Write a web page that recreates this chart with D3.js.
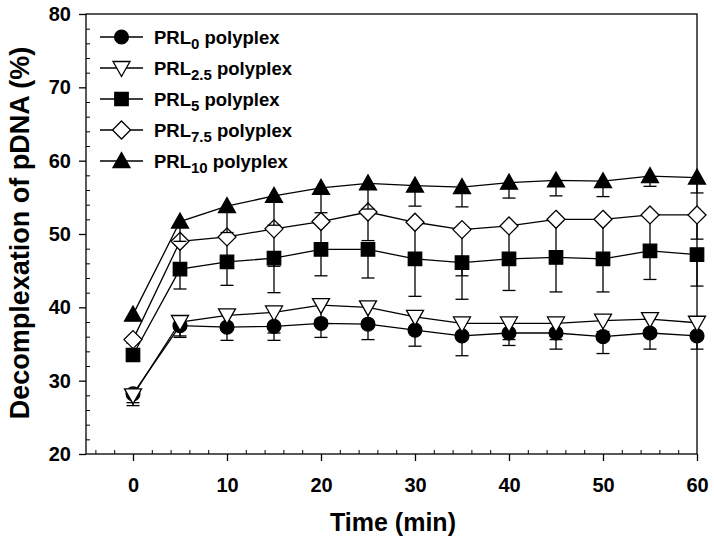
<!DOCTYPE html>
<html>
<head>
<meta charset="utf-8">
<script src="https://cdn.jsdelivr.net/npm/d3@7"></script>
<style>
  html, body { margin: 0; padding: 0; background: #fff; }
  svg { display: block; }
  text { font-family: "Liberation Sans", Arial, sans-serif; font-weight: bold; fill: #000; }
</style>
</head>
<body>
<svg id="chart" width="714" height="546"></svg>
<script>
// ---- data ----
const times = [0, 5, 10, 15, 20, 25, 30, 35, 40, 45, 50, 55, 60];

const prl0      = [28.2, 37.5, 37.3, 37.4, 37.8, 37.7, 36.9, 36.1, 36.5, 36.5, 36.0, 36.5, 36.1];
const prl0Err   = [1.6, 1.6, 1.8, 1.9, 1.9, 2.1, 2.2, 2.7, 1.7, 2.2, 2.3, 2.2, 1.8];
const prl25     = [28.0, 38.0, 38.9, 39.3, 40.3, 40.0, 38.7, 37.8, 37.8, 37.8, 38.2, 38.4, 37.9];
const prl25Err  = [1.0, 1.9, 1.5, 2.8, 2.0, 2.0, 1.5, 1.5, 2.2, 2.2, 1.5, 1.5, 1.5];
const prl5      = [33.5, 45.2, 46.2, 46.7, 47.9, 47.9, 46.6, 46.1, 46.6, 46.8, 46.6, 47.7, 47.2];
const prl5Err   = [0.5, 2.7, 3.2, 4.7, 3.6, 3.9, 5.1, 5.0, 4.3, 4.7, 4.5, 3.9, 4.3];
const prl75     = [35.6, 49.0, 49.6, 50.7, 51.7, 53.0, 51.6, 50.6, 51.1, 52.0, 52.0, 52.6, 52.6];
const prl75Err  = [0.5, 3.8, 3.4, 5.1, 3.8, 3.9, 5.0, 6.3, 4.5, 5.2, 5.4, 4.9, 3.3];
const prl10     = [39.0, 51.7, 53.8, 55.2, 56.3, 56.9, 56.6, 56.4, 57.0, 57.3, 57.2, 57.9, 57.7];
const prl10Err  = [0.5, 2.7, 3.6, 4.0, 3.4, 3.5, 2.8, 2.7, 2.1, 2.1, 2.1, 1.4, 2.1];

const seriesNames = ["0", "2.5", "5", "7.5", "10"];
const seriesValues = [prl0, prl25, prl5, prl75, prl10];
const seriesErrors = [prl0Err, prl25Err, prl5Err, prl75Err, prl10Err];
const seriesSymbols = ["circle", "triangleDown", "square", "diamond", "triangle"];
const seriesFill = ["#000", "#fff", "#000", "#fff", "#000"];

const xMajorTicks = [0, 10, 20, 30, 40, 50, 60];
const yMajorTicks = [20, 30, 40, 50, 60, 70, 80];
const xTitle = "Time (min)";
const yTitle = "Decomplexation of pDNA (%)";

// ---- layout ----
const svg = d3.select("#chart");
const L = 86, R = 697, T = 14, B = 454;
const x = d3.scaleLinear().domain([-5, 60]).range([L, R]);
const y = d3.scaleLinear().domain([20, 80]).range([B, T]);

// frame
svg.append("rect").attr("x", L).attr("y", T).attr("width", R - L).attr("height", B - T)
  .attr("fill", "none").attr("stroke", "#000").attr("stroke-width", 1.3);

// bottom axis (major outward)
const xAxis = svg.append("g").attr("transform", `translate(0,${B})`)
  .call(d3.axisBottom(x).tickValues(xMajorTicks).tickSize(7).tickPadding(17).tickFormat(d3.format("d")));
xAxis.select(".domain").remove();
xAxis.selectAll("line").attr("stroke-width", 1.3);
xAxis.selectAll("text").attr("font-size", 20).attr("font-family", "Liberation Sans, Arial").attr("font-weight", "bold");
// minor inward
const xMinor = d3.range(-4, 60, 2).filter(v => v % 10 !== 0);
const xMin = svg.append("g").attr("transform", `translate(0,${B})`)
  .call(d3.axisTop(x).tickValues(xMinor).tickSize(4).tickFormat(""));
xMin.select(".domain").remove();
xMin.selectAll("line").attr("stroke-width", 1);

// left axis
const yAxis = svg.append("g").attr("transform", `translate(${L},0)`)
  .call(d3.axisLeft(y).tickValues(yMajorTicks).tickSize(7).tickPadding(8).tickFormat(d3.format("d")));
yAxis.select(".domain").remove();
yAxis.selectAll("line").attr("stroke-width", 1.3);
yAxis.selectAll("text").attr("font-size", 20).attr("font-family", "Liberation Sans, Arial").attr("font-weight", "bold");
const yMinor = d3.range(22, 80, 2).filter(v => v % 10 !== 0);
const yMin = svg.append("g").attr("transform", `translate(${L},0)`)
  .call(d3.axisRight(y).tickValues(yMinor).tickSize(4).tickFormat(""));
yMin.select(".domain").remove();
yMin.selectAll("line").attr("stroke-width", 1);

// titles
svg.append("text").attr("x", 393).attr("y", 531).attr("text-anchor", "middle")
  .attr("font-size", 25).text(xTitle);
svg.append("text").attr("transform", `translate(29,233) rotate(-90)`).attr("text-anchor", "middle")
  .attr("font-size", 27).text(yTitle);

// symbols
function symbolPath(type) {
  switch (type) {
    case "circle": return d3.symbol(d3.symbolCircle, 150)();
    case "square": return d3.symbol(d3.symbolSquare, 180)();
    case "diamond": return "M0,-9L9,0L0,9L-9,0Z";
    case "triangle": return "M0,-8.5L8.5,6.5L-8.5,6.5Z";
    case "triangleDown": return "M0,8.5L8.5,-6.5L-8.5,-6.5Z";
  }
}

const line = d3.line().x(d => x(d[0])).y(d => y(d[1]));
const capW = 6.5;

seriesValues.forEach((vals, si) => {
  const g = svg.append("g");
  const pts = times.map((t, i) => [t, vals[i], seriesErrors[si][i]]);
  g.append("path").attr("d", line(pts)).attr("fill", "none").attr("stroke", "#000").attr("stroke-width", 1.3);
  // lower error bars
  const eb = g.selectAll(".eb").data(pts).join("g");
  eb.append("line").attr("x1", d => x(d[0])).attr("x2", d => x(d[0]))
    .attr("y1", d => y(d[1])).attr("y2", d => y(d[1] - d[2])).attr("stroke", "#000").attr("stroke-width", 1.3);
  eb.append("line").attr("x1", d => x(d[0]) - capW).attr("x2", d => x(d[0]) + capW)
    .attr("y1", d => y(d[1] - d[2])).attr("y2", d => y(d[1] - d[2])).attr("stroke", "#000").attr("stroke-width", 1.3);
  g.selectAll(".m").data(pts).join("path")
    .attr("transform", d => `translate(${x(d[0])},${y(d[1])})`)
    .attr("d", symbolPath(seriesSymbols[si]))
    .attr("fill", seriesFill[si]).attr("stroke", "#000").attr("stroke-width", 1.3);
});

// legend
const legY = [37, 68, 99, 130, 161];
seriesNames.forEach((nm, si) => {
  const ly = legY[si];
  svg.append("line").attr("x1", 100).attr("x2", 143).attr("y1", ly).attr("y2", ly)
    .attr("stroke", "#000").attr("stroke-width", 1.3);
  svg.append("path").attr("transform", `translate(121.5,${ly})`).attr("d", symbolPath(seriesSymbols[si]))
    .attr("fill", seriesFill[si]).attr("stroke", "#000").attr("stroke-width", 1.3);
  const t = svg.append("text").attr("x", 154).attr("y", ly + 6.5).attr("font-size", 18.5);
  t.append("tspan").text("PRL");
  t.append("tspan").attr("font-size", 15).attr("dy", 5).text(nm);
  t.append("tspan").attr("dy", -5).text(" polyplex");
});
</script>
</body>
</html>
